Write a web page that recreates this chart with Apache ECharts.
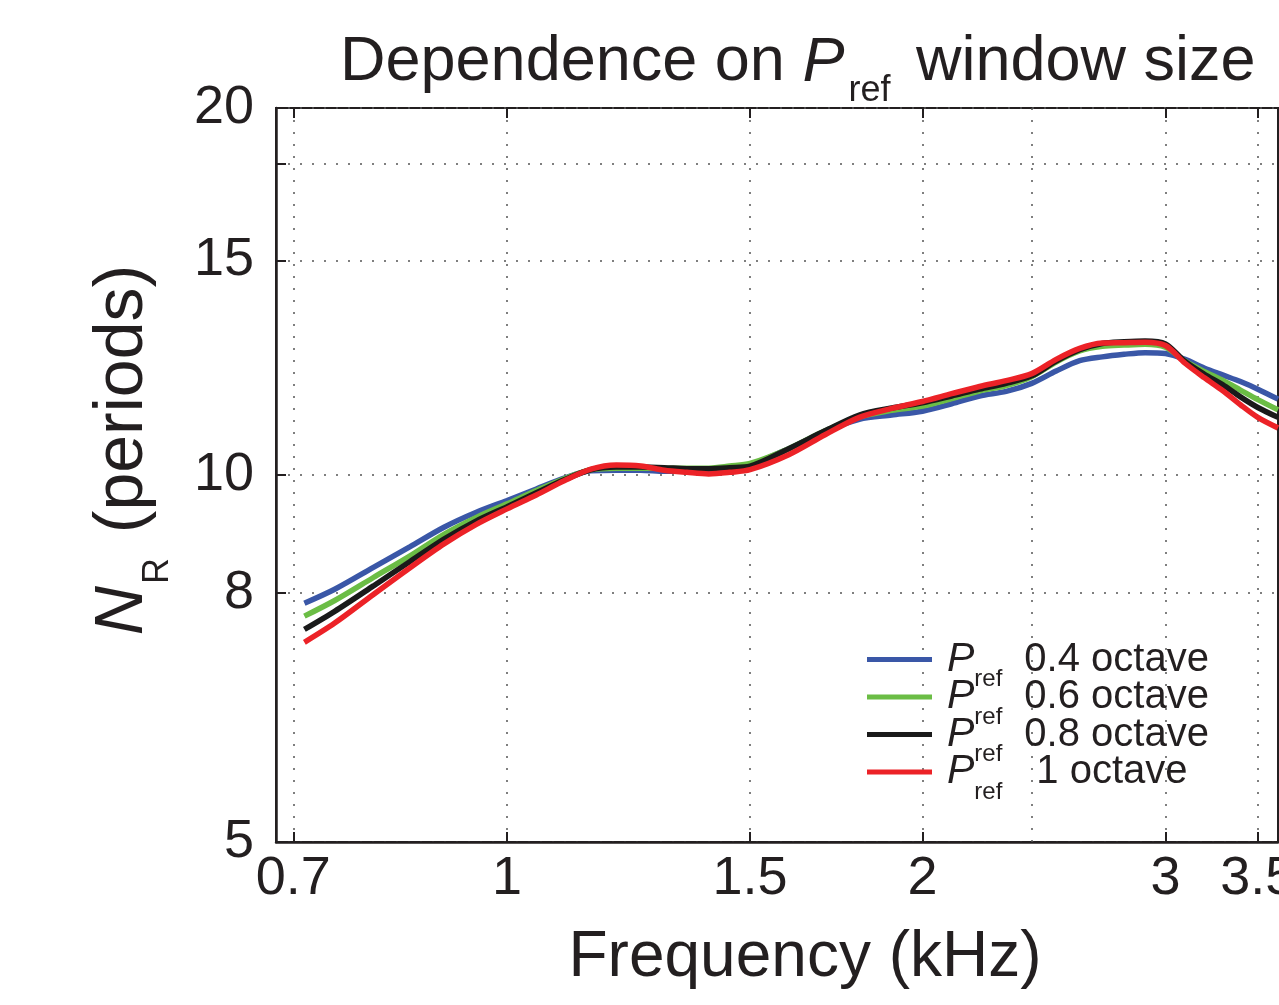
<!DOCTYPE html>
<html>
<head>
<meta charset="utf-8">
<title>Dependence on Pref window size</title>
<script src="https://cdn.jsdelivr.net/npm/echarts@6/dist/echarts.min.js"></script>
<style>
  html, body { margin: 0; padding: 0; background: #fff; }
  #chart { width: 1279px; height: 1005px; }
</style>
</head>
<body>
<div id="chart"></div>
<script>
// frequency (kHz) and N_R (periods)
const freqKHz = [0.713, 0.75, 0.8, 0.85, 0.9, 0.95, 1.0, 1.05, 1.1, 1.15, 1.2, 1.25, 1.3, 1.35, 1.4, 1.45, 1.5,
  1.6, 1.7, 1.8, 1.9, 2.0, 2.1, 2.2, 2.3, 2.4, 2.5, 2.6, 2.7, 2.8, 2.9, 3.0, 3.1, 3.2, 3.3, 3.4, 3.5, 3.62];
const nr04 = [7.85, 8.06, 8.40, 8.73, 9.06, 9.32, 9.53, 9.74, 9.94, 10.08, 10.09, 10.09, 10.07, 10.07, 10.09, 10.15, 10.19,
  10.51, 10.86, 11.11, 11.20, 11.28, 11.44, 11.61, 11.71, 11.89, 12.17, 12.41, 12.50, 12.56, 12.60, 12.58, 12.44, 12.24, 12.08, 11.93, 11.76, 11.54];
const nr06 = [7.66, 7.89, 8.24, 8.58, 8.94, 9.23, 9.47, 9.71, 9.93, 10.10, 10.13, 10.13, 10.13, 10.13, 10.13, 10.17, 10.22,
  10.51, 10.87, 11.16, 11.30, 11.39, 11.55, 11.72, 11.84, 12.04, 12.38, 12.64, 12.75, 12.78, 12.80, 12.73, 12.40, 12.16, 11.96, 11.74, 11.53, 11.31];
const nr08 = [7.47, 7.73, 8.11, 8.49, 8.86, 9.17, 9.42, 9.67, 9.91, 10.10, 10.15, 10.15, 10.14, 10.12, 10.12, 10.14, 10.17,
  10.51, 10.87, 11.20, 11.35, 11.46, 11.61, 11.76, 11.89, 12.06, 12.40, 12.67, 12.82, 12.86, 12.88, 12.81, 12.39, 12.10, 11.86, 11.59, 11.36, 11.15];
const nr10 = [7.29, 7.56, 7.98, 8.39, 8.78, 9.11, 9.38, 9.63, 9.89, 10.11, 10.19, 10.17, 10.09, 10.05, 10.02, 10.05, 10.10,
  10.39, 10.79, 11.15, 11.34, 11.49, 11.66, 11.82, 11.95, 12.11, 12.44, 12.70, 12.83, 12.84, 12.85, 12.77, 12.35, 12.02, 11.73, 11.42, 11.15, 10.93];

const windowNames = ['0.4 octave', '0.6 octave', '0.8 octave', '1 octave'];
const lineColors = ['#3a57a7', '#6bbd45', '#1a1a1a', '#ec2227'];

const xTicks = [0.7, 1, 1.5, 2, 3, 3.5];
const yLabels = [5, 8, 10, 15, 20];
const yTicks = [5, 8, 10, 15, 18, 20];

const FONT = '"Liberation Sans", Arial, Helvetica, sans-serif';
const INK = '#231f20';
const gridDots = { show: true, lineStyle: { color: '#555', width: 1.5, type: [2, 10] } };

const chart = echarts.init(document.getElementById('chart'));

const allSeries = [nr04, nr06, nr08, nr10];
const series = allSeries.map((vals, i) => ({
  name: windowNames[i],
  type: 'line',
  data: freqKHz.map((f, j) => [f, vals[j]]),
  smooth: 0.3,
  showSymbol: false,
  symbol: 'none',
  color: lineColors[i],
  lineStyle: { width: 5.5, color: lineColors[i] },
  z: 3 + i
}));
// stray vertical grid line in the original figure
series[0].markLine = {
  silent: true,
  symbol: 'none',
  label: { show: false },
  lineStyle: { color: '#555', width: 1.5, type: [2, 10] },
  data: [{ xAxis: 2.4 }],
  z: 1
};

const option = {
  animation: false,
  backgroundColor: '#fff',
  title: {
    text: '{a|Dependence on }{p|P}{s|ref}{a| window size}',
    left: 340,
    top: 17,
    padding: 0,
    textStyle: {
      fontWeight: 'normal',
      rich: {
        a: { fontFamily: FONT, fontSize: 63, fontWeight: 'normal', color: INK, lineHeight: 92 },
        p: { fontFamily: FONT, fontSize: 63, fontWeight: 'normal', fontStyle: 'italic', color: INK, lineHeight: 92 },
        s: { fontFamily: FONT, fontSize: 36, fontWeight: 'normal', color: INK, lineHeight: 36, verticalAlign: 'bottom', padding: [0, 8, 0, 4] }
      }
    }
  },
  legend: {
    orient: 'vertical',
    left: 867,
    top: 639,
    padding: 0,
    itemGap: -15,
    itemWidth: 65,
    itemHeight: 5,
    icon: 'rect',
    selectedMode: false,
    data: windowNames,
    formatter: name => name === '1 octave'
      ? '{p|P}{s|ref}{w|' + name + '}'
      : '{p|P}{s|ref}{t|' + name + '}',
    textStyle: {
      rich: {
        p: { fontFamily: FONT, fontSize: 41, fontStyle: 'italic', color: INK, lineHeight: 64, padding: [0, 0, 0, 10] },
        s: { fontFamily: FONT, fontSize: 24, color: INK, lineHeight: 24, verticalAlign: 'bottom' },
        t: { fontFamily: FONT, fontSize: 40, color: INK, lineHeight: 64, padding: [0, 0, 0, 22] },
        w: { fontFamily: FONT, fontSize: 40, color: INK, lineHeight: 64, padding: [0, 0, 0, 34] }
      }
    }
  },
  grid: {
    left: 276,
    top: 108,
    right: 1,
    bottom: 163,
    outerBoundsMode: 'none',
    containLabel: false,
    show: true,
    borderColor: INK,
    borderWidth: 2,
    backgroundColor: '#fff'
  },
  xAxis: [{
    type: 'log',
    logBase: 10,
    min: 0.68,
    max: 3.62,
    name: 'Frequency (kHz)',
    nameLocation: 'middle',
    nameGap: 84,
    nameTextStyle: { fontFamily: FONT, fontSize: 64, color: INK, padding: [0, 0, 0, 56] },
    axisLine: { show: true, lineStyle: { color: INK, width: 2.5 } },
    axisTick: { show: true, inside: true, length: 10, customValues: xTicks, lineStyle: { color: INK, width: 2 } },
    axisLabel: {
      customValues: xTicks,
      margin: 10,
      fontFamily: FONT,
      fontSize: 54,
      color: INK,
      formatter: v => String(v)
    },
    minorTick: { show: false },
    splitLine: gridDots
  }, {
    type: 'log',
    logBase: 10,
    min: 0.68,
    max: 3.62,
    position: 'top',
    axisLine: { show: false },
    axisTick: { show: true, inside: true, length: 10, customValues: xTicks, lineStyle: { color: INK, width: 2 } },
    axisLabel: { show: false },
    splitLine: { show: false }
  }],
  yAxis: {
    type: 'log',
    logBase: 10,
    min: 5,
    max: 20,
    name: '{n|N}{r|R}{a| (periods)}',
    nameLocation: 'middle',
    nameRotate: 90,
    nameGap: 100,
    nameTextStyle: {
      padding: [0, 0, 0, 50],
      rich: {
        n: { fontFamily: FONT, fontSize: 68, fontStyle: 'italic', color: INK, lineHeight: 106 },
        r: { fontFamily: FONT, fontSize: 36, color: INK, lineHeight: 36, verticalAlign: 'bottom', padding: [0, 6, 0, 2] },
        a: { fontFamily: FONT, fontSize: 68, color: INK, lineHeight: 106 }
      }
    },
    axisLine: { show: true, lineStyle: { color: INK, width: 2.5 } },
    axisTick: { show: true, inside: true, length: 10, customValues: yTicks, lineStyle: { color: INK, width: 2 } },
    axisLabel: {
      customValues: yLabels,
      margin: 22,
      fontFamily: FONT,
      fontSize: 54,
      color: INK,
      formatter: v => String(v)
    },
    minorTick: { show: false },
    splitLine: gridDots
  },
  series: series
};

chart.setOption(option);
window.addEventListener('resize', () => chart.resize());
</script>
</body>
</html>
